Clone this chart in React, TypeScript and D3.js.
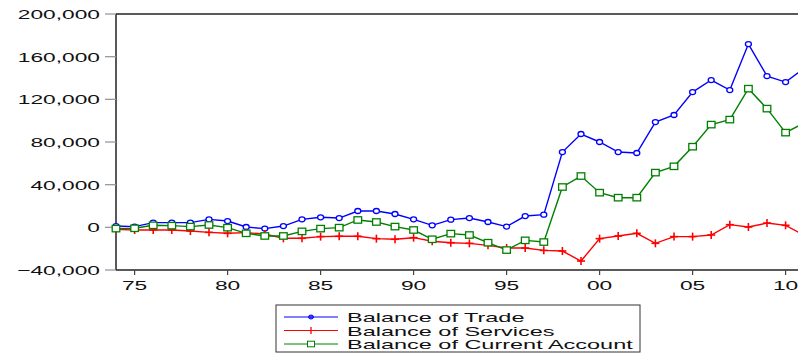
import React from "react";
import * as d3 from "d3";

const years: number[] = d3.range(1974, 2012);
const tradeValues: number[] = [
  1200, 700, 4400, 4400, 4400, 7500, 5900, 300, -1200, 1200,
  7500, 9400, 8700, 15300, 15300, 12500, 7500, 1900, 7200, 8700,
  5000, 700, 10600, 11900, 70600, 87500, 80000, 70600, 69700, 98700,
  105300, 126800, 138100, 128700, 171800, 141800, 136200, 149000,
];
const servicesValues: number[] = [
  -1900, -2500, -2500, -2500, -3500, -4700, -5600, -5000, -6300, -10300,
  -10300, -8700, -8400, -8400, -10600, -11200, -9700, -13100, -14400, -15000,
  -16900, -19400, -19400, -21600, -22200, -31600, -10600, -8100, -5600, -15000,
  -8700, -8700, -7200, 2500, 300, 4000, 1900, -7400,
];
const currentValues: number[] = [
  -1200, -900, 1900, 1600, 700, 2200, -300, -5600, -8100, -8100,
  -3800, -1200, -300, 6900, 5000, 700, -2500, -11200, -5900, -7200,
  -14400, -21300, -12200, -13800, 37800, 48100, 32500, 27800, 27800, 51300,
  57200, 75600, 96300, 101000, 130000, 111300, 88800, 97900,
];
const yTicks: number[] = [-40000, 0, 40000, 80000, 120000, 160000, 200000];
const xTicks: number[] = [1975, 1980, 1985, 1990, 1995, 2000, 2005, 2010];
const seriesNames: string[] = [
  "Balance of Trade",
  "Balance of Services",
  "Balance of Current Account",
];

const W = 798;
const H = 354;
const SX = 1.75;
const FONT = "Liberation Sans";

export default function App() {
  const x = d3.scaleLinear().domain([1974, 2011]).range([116, 804.2]);
  const y = d3.scaleLinear().domain([-40000, 200000]).range([270, 14]);
  const line = d3
    .line<[number, number]>()
    .x((d) => x(d[0]))
    .y((d) => y(d[1]));

  const series = [
    { name: seriesNames[0], values: tradeValues, color: "#0000ff", marker: "circle" },
    { name: seriesNames[1], values: servicesValues, color: "#ff0000", marker: "plus" },
    { name: seriesNames[2], values: currentValues, color: "#008000", marker: "square" },
  ];

  const textStyle = { fontFamily: FONT };

  const drawMarker = (m: string, cx: number, cy: number, color: string, key: string) => {
    if (m === "circle")
      return <ellipse key={key} cx={cx} cy={cy} rx={3} ry={2.5} fill="white" stroke={color} strokeWidth={1.3} />;
    if (m === "square")
      return <rect key={key} x={cx - 3.8} y={cy - 3.2} width={7.6} height={6.4} fill="white" stroke={color} strokeWidth={1.3} />;
    return (
      <g key={key} stroke={color} strokeWidth={1.6}>
        <line x1={cx - 4} x2={cx + 4} y1={cy} y2={cy} />
        <line x1={cx} x2={cx} y1={cy - 4} y2={cy + 4} />
      </g>
    );
  };

  return (
    <svg
      width={W}
      height={H}
      style={{ position: "absolute", left: 0, top: 0, background: "white" }}
    >
      <rect x={0} y={0} width={W} height={H} fill="white" />
      {/* frame */}
      <line x1={116} x2={W} y1={14} y2={14} stroke="#222" strokeWidth={1.5} />
      <line x1={116} x2={W} y1={270} y2={270} stroke="#222" strokeWidth={1.5} />
      <line x1={116} x2={116} y1={14} y2={270} stroke="#222" strokeWidth={1.5} />
      {/* y ticks */}
      {yTicks.map((t) => (
        <g key={t}>
          <line x1={105} x2={116} y1={y(t)} y2={y(t)} stroke="#999" strokeWidth={1.3} />
          <text
            transform={`translate(100,${y(t) + 5}) scale(${SX},1)`}
            textAnchor="end"
            fontSize={13}
            fill="#111"
            style={textStyle}
          >
            {d3.format(",")(t)}
          </text>
        </g>
      ))}
      {/* x ticks */}
      {xTicks.map((t) => (
        <g key={t}>
          <line x1={x(t)} x2={x(t)} y1={270} y2={275} stroke="#444" strokeWidth={1.2} />
          <text
            transform={`translate(${x(t)},${290}) scale(${SX},1)`}
            textAnchor="middle"
            fontSize={13}
            fill="#111"
            style={textStyle}
          >
            {String(t % 100).padStart(2, "0")}
          </text>
        </g>
      ))}
      {/* series */}
      {series.map((s) => {
        const pts: [number, number][] = years.map((yr, i) => [yr, s.values[i]]);
        return (
          <g key={s.name}>
            <path d={line(pts) || ""} fill="none" stroke={s.color} strokeWidth={1.4} />
            {pts.map((p, i) => drawMarker(s.marker, x(p[0]), y(p[1]), s.color, s.name + i))}
          </g>
        );
      })}
      {/* legend */}
      <rect x={276} y={305} width={364} height={47} fill="white" stroke="#333" strokeWidth={1} />
      {series.map((s, i) => {
        const ly = 317 + i * 13.5;
        return (
          <g key={"lg" + s.name}>
            <line x1={284} x2={338} y1={ly} y2={ly} stroke={s.color} strokeWidth={1} />
            {s.marker === "circle" && (
              <ellipse cx={311} cy={ly} rx={2.5} ry={2} fill={s.color} stroke={s.color} strokeWidth={1} fillOpacity={0.6} />
            )}
            {s.marker === "plus" && (
              <line x1={311} x2={311} y1={ly - 3.5} y2={ly + 3.5} stroke={s.color} strokeWidth={1.3} />
            )}
            {s.marker === "square" && (
              <rect x={307.5} y={ly - 2.8} width={7} height={5.6} fill="white" stroke={s.color} strokeWidth={1} />
            )}
            <text
              transform={`translate(347,${ly + 5}) scale(1.74,1)`}
              fontSize={13.5}
              fill="#111"
              style={textStyle}
            >
              {s.name}
            </text>
          </g>
        );
      })}
    </svg>
  );
}
